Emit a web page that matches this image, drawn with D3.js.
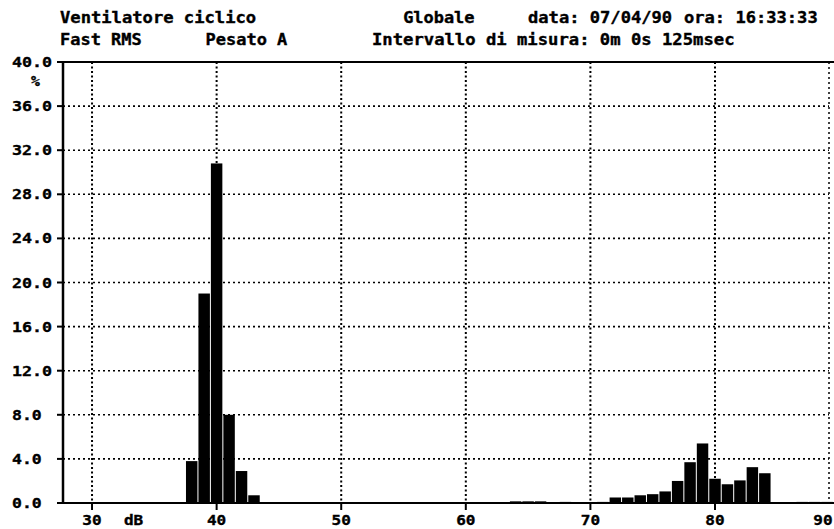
<!DOCTYPE html>
<html>
    <head>
        <title>
            Ventilatore ciclico
        </title>
        <script src="https://d3js.org/d3.v7.min.js"></script>
        <style>
            body { margin: 0; background: #fff; }
            text { font-family: "DejaVu Sans Mono", monospace; font-weight: bold; fill: #000; stroke: #000; stroke-width: 0.35; }
        </style>
    </head>
    <body>
        <svg width="834" height="529" id="mainsvg"></svg>
        <script>
            // distribuzione livelli (dB) -> percentuale del tempo
            const levels  = [38, 39, 40, 41, 42, 43, 47, 64, 65, 66, 68, 71, 72, 73, 74, 75, 76, 77, 78, 79, 80, 81, 82, 83, 84, 87, 88, 89]
            const percent = [3.8, 19.0, 30.8, 8.0, 2.9, 0.7, 0.05, 0.15, 0.15, 0.15, 0.1, 0.1, 0.5, 0.5, 0.7, 0.8, 1.05, 2.0, 3.7, 5.4, 2.2, 1.7, 2.05, 3.25, 2.7, 0.1, 0.1, 0.1]
            const xTicks = [30, 40, 50, 60, 70, 80, 90]
            const yTicks = [0, 4, 8, 12, 16, 20, 24, 28, 32, 36, 40]
            const headerLine1 = [['Ventilatore ciclico', 0], ['Globale', 33], ['data: 07/04/90', 45], ['ora: 16:33:33', 60]]
            const headerLine2 = [['Fast RMS', 0], ['Pesato A', 14], ['Intervallo di misura: 0m 0s 125msec', 30]]

            const svg = d3.select('#mainsvg')
            const width = +svg.attr('width')
            const height = +svg.attr('height')
            const margin = {top: 62, right: 5, bottom: 26, left: 63}
            const pitch = 10.4   // larghezza carattere (font a griglia)

            const x = d3.scaleLinear().domain([27.67, 89.15]).range([margin.left, width - margin.right])
            const y = d3.scaleLinear().domain([0, 40]).range([height - margin.bottom, margin.top])
            const x0 = x.range()[0], x1 = x.range()[1]
            const y0 = y.range()[0], y1 = y.range()[1]

            const monoText = (sel, str) => sel.text(str)
                .attr('textLength', str.length * pitch - 1.5)
                .attr('lengthAdjust', 'spacingAndGlyphs')

            // intestazione
            const head = svg.append('g').attr('font-size', 15)
            headerLine1.forEach(([s, col]) => head.append('text').attr('x', 60 + col * pitch).attr('y', 23).call(monoText, s))
            headerLine2.forEach(([s, col]) => head.append('text').attr('x', 60 + col * pitch).attr('y', 45).call(monoText, s))

            // griglia tratteggiata
            const grid = svg.append('g').attr('stroke', '#000').attr('fill', 'none')
            grid.selectAll('.hg').data(yTicks.filter(d => d > 0 && d < 40)).join('line')
                .attr('x1', x0).attr('x2', x1)
                .attr('y1', d => y(d)).attr('y2', d => y(d))
                .attr('stroke-width', 1.6).attr('stroke-dasharray', '2,3')
            grid.selectAll('.vg').data(xTicks.filter(d => x(d) < x1)).join('line')
                .attr('x1', d => x(d)).attr('x2', d => x(d))
                .attr('y1', y1).attr('y2', y0)
                .attr('stroke-width', 2).attr('stroke-dasharray', '2,2.5')
            // bordo destro tratteggiato
            grid.append('line').attr('x1', x1).attr('x2', x1).attr('y1', y1).attr('y2', y0)
                .attr('stroke-width', 1.5).attr('stroke-dasharray', '2,3')

            // barre
            const step = x(1) - x(0)
            svg.append('g').selectAll('rect').data(levels).join('rect')
                .attr('x', d => x(d - 0.5) + 0.5)
                .attr('width', step - 1)
                .attr('y', (d, i) => y(percent[i]))
                .attr('height', (d, i) => y0 - y(percent[i]))
                .attr('fill', '#000')

            // assi
            const axes = svg.append('g').attr('stroke', '#000')
            axes.append('line').attr('x1', x0).attr('x2', x0).attr('y1', y1).attr('y2', y0).attr('stroke-width', 2.5)
            axes.append('line').attr('x1', x0 - 6).attr('x2', width).attr('y1', y0).attr('y2', y0).attr('stroke-width', 2)
            axes.append('line').attr('x1', x0 - 6).attr('x2', width).attr('y1', y1).attr('y2', y1).attr('stroke-width', 2)
            axes.selectAll('.yt').data(yTicks).join('line')
                .attr('x1', x0 - 6).attr('x2', x0).attr('y1', d => y(d)).attr('y2', d => y(d)).attr('stroke-width', 2)
            axes.selectAll('.xt').data(xTicks.filter(d => x(d) < x1)).join('line')
                .attr('x1', d => x(d)).attr('x2', d => x(d)).attr('y1', y0).attr('y2', y0 + 7).attr('stroke-width', 2)

            // etichette asse y
            const fmt = d3.format('.1f')
            const ylab = svg.append('g').attr('font-size', 14)
            yTicks.forEach(d => ylab.append('text').attr('x', 12).attr('y', y(d) + 5).call(monoText, fmt(d)))
            ylab.append('text').attr('x', 31).attr('y', 86).call(monoText, '%')

            // etichette asse x
            const xlab = svg.append('g').attr('font-size', 14).attr('text-anchor', 'middle')
            xTicks.forEach(d => xlab.append('text')
                .attr('x', Math.min(x(d), width - 11)).attr('y', 525).call(monoText, String(d)))
            xlab.append('text').attr('x', x(30) + 4 * pitch).attr('y', 525).call(monoText, 'dB')
        </script>
    </body>
</html>
